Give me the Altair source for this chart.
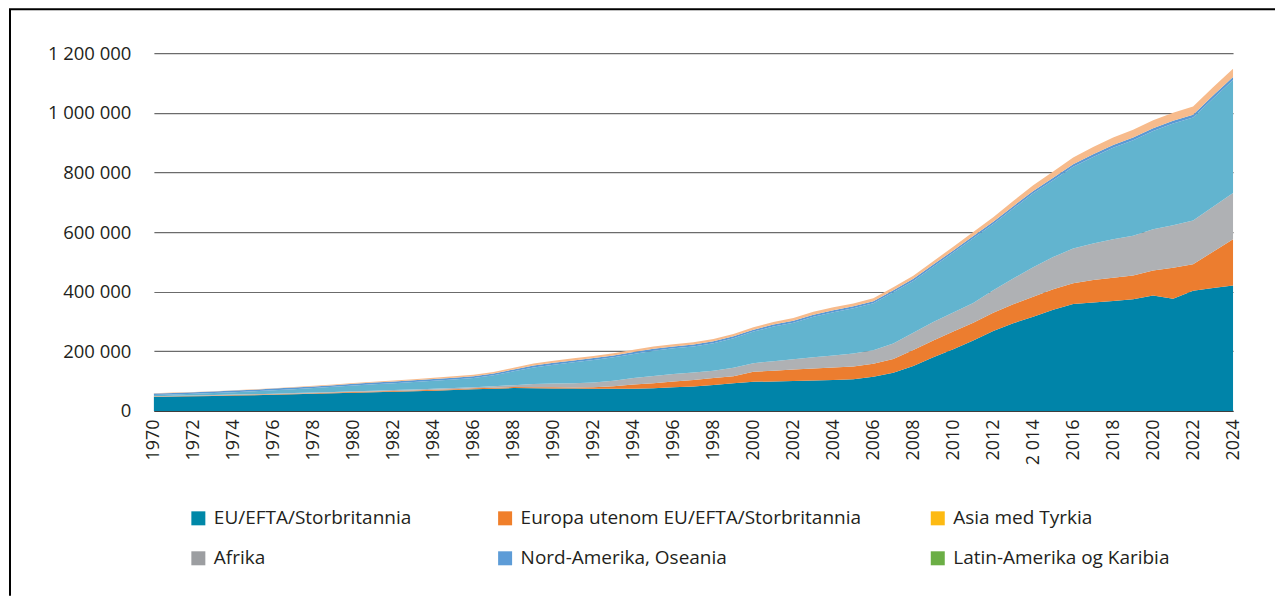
import altair as alt
import pandas as pd

years = list(range(1970, 2025))

eu = [47000, 48000, 49000, 50000, 51300, 52700, 54100, 55600, 57200, 59000,
      61000, 62500, 64000, 65800, 67800, 70000, 72500, 74500, 76500, 76000,
      75500, 75000, 74500, 74000, 74500, 76000, 79000, 82000, 87000, 93000,
      98000, 98500, 100000, 102000, 104000, 106000, 115000, 128000, 151000, 180000,
      207000, 236000, 268000, 294000, 316000, 339000, 359000, 364000, 369000, 375000,
      387000, 376000, 403000, 412000, 421000]
europa = [1500, 1600, 1700, 1800, 1900, 2000, 2100, 2200, 2300, 2400,
          2500, 2600, 2700, 2800, 2900, 3000, 3200, 3500, 3500, 3500,
          3500, 3800, 5000, 8500, 14500, 17000, 20000, 22000, 23000, 23000,
          33000, 36500, 39000, 40500, 41500, 43000, 43000, 46000, 53500, 56000,
          59000, 60000, 61000, 64000, 67000, 69000, 69000, 75000, 78000, 79000,
          84000, 104000, 89000, 122000, 155000]
afrika = [1000, 1100, 1200, 1300, 1500, 1600, 1700, 1900, 2100, 2300,
          2500, 2800, 3100, 3300, 3500, 3600, 3800, 4500, 6500, 11000,
          13000, 14200, 15500, 18500, 21000, 24000, 25000, 24500, 25000, 29000,
          29000, 32000, 34500, 37500, 40500, 43500, 45500, 52000, 58000, 62000,
          64000, 66000, 76000, 86000, 99000, 108000, 117000, 123000, 129000, 134000,
          138000, 143000, 147000, 151000, 155000]
asia = [3500, 4300, 5400, 6700, 8000, 9500, 11300, 13200, 15100, 17100,
        19500, 21300, 23200, 25100, 27000, 28900, 31000, 37000, 46500, 55500,
        63000, 70300, 76000, 79000, 81000, 85000, 86000, 87500, 92000, 99000,
        106000, 116000, 122500, 136000, 145000, 151500, 157500, 172000, 173500, 186000,
        201000, 217000, 222000, 235000, 248000, 258000, 274000, 290000, 307000, 320000,
        330000, 341000, 345000, 363000, 379000]
nord_amerika = [5500, 5500, 5500, 5500, 5500, 5500, 5600, 5600, 5600, 5700,
                5800, 5800, 5800, 5900, 5900, 6000, 6000, 6000, 6100, 6100,
                6200, 6200, 6200, 6200, 6300, 6300, 6300, 6400, 6400, 6400,
                6500, 6500, 6600, 6600, 6700, 6700, 6800, 6900, 7000, 7100,
                7300, 7500, 7700, 7900, 8100, 8300, 8500, 8700, 8900, 9100,
                9300, 9500, 9700, 9900, 10000]
latin = [1000, 1000, 1000, 1000, 1000, 1200, 1300, 1500, 1700, 2000,
         2700, 3000, 3200, 3600, 3900, 4500, 4500, 5000, 6000, 6800,
         7200, 7400, 7400, 7400, 7500, 7600, 7700, 7700, 7800, 7800,
         8500, 9000, 9400, 9900, 9800, 9800, 10200, 10100, 10500, 10900,
         12700, 13500, 15300, 17100, 18900, 20700, 22500, 24300, 25100, 25900,
         26700, 27000, 27300, 27600, 28000]

# stacking order (bottom to top) and the colours actually drawn in the areas
stack_names = ["EU/EFTA/Storbritannia", "Europa utenom EU/EFTA/Storbritannia", "Afrika",
               "Asia med Tyrkia", "Nord-Amerika, Oseania", "Latin-Amerika og Karibia"]
stack_series = [eu, europa, afrika, asia, nord_amerika, latin]
area_colors = ["#0084A9", "#EC7D2F", "#AFB1B4", "#62B4CF", "#5A99D4", "#F7BB8C"]

# legend columns as printed under the chart
legend_columns = [
    (["EU/EFTA/Storbritannia", "Afrika"], ["#0088A8", "#9C9EA1"], 35),
    (["Europa utenom EU/EFTA/Storbritannia", "Nord-Amerika, Oseania"], ["#F07F2A", "#5D9CD7"], 342),
    (["Asia med Tyrkia", "Latin-Amerika og Karibia"], ["#FDBA12", "#6BAE45"], 775),
]

x_ticks = list(range(1970, 2025, 2))
y_ticks = [0, 200000, 400000, 600000, 800000, 1000000, 1200000]

rows = []
for i, (name, vals) in enumerate(zip(stack_names, stack_series)):
    for yr, v in zip(years, vals):
        rows.append({"year": yr, "region": name, "value": v, "order": i})
df = pd.DataFrame(rows)

FONT = "Open Sans"
TXT = "#231F20"

area = alt.Chart(df).mark_area(interpolate="linear").encode(
    x=alt.X("year:Q",
            scale=alt.Scale(domain=[1970, 2024], nice=False, zero=False),
            axis=alt.Axis(values=x_ticks, title=None, grid=False, ticks=False, tickSize=0,
                          domain=True, domainColor="#3a3a3a", domainWidth=1,
                          labelAngle=270, labelFontSize=18, labelPadding=8,
                          labelExpr="datum.value == 2014 ? '2 014' : toString(datum.value)")),
    y=alt.Y("value:Q", stack="zero",
            scale=alt.Scale(domain=[0, 1200000], nice=False),
            axis=alt.Axis(values=y_ticks, title=None, grid=True, gridColor="#6b6b6b",
                          gridWidth=1.2, ticks=False, tickSize=0, domain=False,
                          labelFontSize=18.5, labelPadding=23,
                          labelExpr="replace(format(datum.value, ','), regexp(',', 'g'), ' ')")),
    color=alt.Color("region:N", scale=alt.Scale(domain=stack_names, range=area_colors), legend=None),
    order=alt.Order("order:Q", sort="ascending"),
)

legend_layers = []
for k, (names, cols, lx) in enumerate(legend_columns):
    fld = f"legend_{k}"
    ldf = pd.DataFrame({fld: names})
    legend_layers.append(
        alt.Chart(ldf).mark_square(opacity=0).encode(
            color=alt.Color(f"{fld}:N",
                            scale=alt.Scale(domain=names, range=cols),
                            legend=alt.Legend(orient="none", legendX=lx, legendY=456,
                                              direction="vertical", title=None,
                                              symbolOpacity=1, symbolSize=196, symbolType="square",
                                              symbolStrokeWidth=0,
                                              labelFontSize=19, labelOffset=6, labelLimit=600,
                                              rowPadding=20, labelFont=FONT, labelColor=TXT))
        )
    )

frame_df = pd.DataFrame({"k": [0]})
left_line = alt.Chart(frame_df).mark_rule(color="black", strokeWidth=2).encode(
    x=alt.value(-144), y=alt.value(-44), y2=alt.value(543))
top_line = alt.Chart(frame_df).mark_rule(color="black", strokeWidth=2).encode(
    x=alt.value(-145), x2=alt.value(1122), y=alt.value(-44))

chart = alt.layer(area, *legend_layers, left_line, top_line).resolve_scale(
    color="independent"
).properties(
    width=1080, height=358, padding=0
).configure_view(strokeWidth=0).configure_axis(
    labelFont=FONT, labelColor=TXT
).configure_legend(
    labelFont=FONT, labelColor=TXT
)

chart.save("out.html", embed_options={"renderer": "svg", "actions": False})
